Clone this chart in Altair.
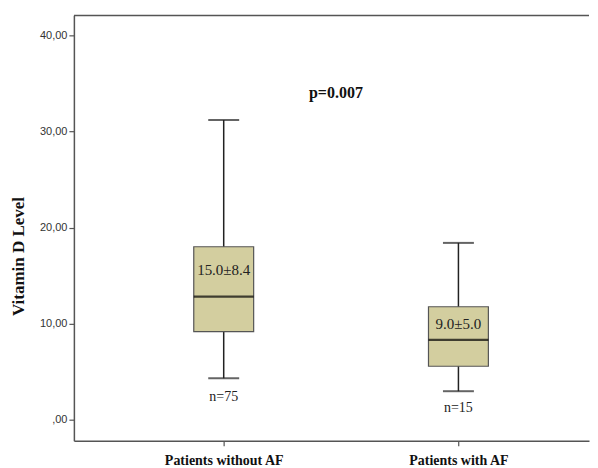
import altair as alt
import pandas as pd

groups = ["Patients without AF", "Patients with AF"]
group_pos = [0, 1]
whisker_low = [4.3, 2.95]
q1 = [9.15, 5.55]
median = [12.8, 8.3]
q3 = [18.0, 11.75]
whisker_high = [31.2, 18.4]
mean_sd_labels = ["15.0±8.4", "9.0±5.0"]
mean_sd_y = [15.6, 9.9]
n_labels = ["n=75", "n=15"]
n_y = [2.3, 1.15]
p_label = ["p=0.007"]
p_x = [0.478]
p_y = [34.0]

df = pd.DataFrame({
    "group": groups, "pos": group_pos, "lo": whisker_low, "q1": q1,
    "med": median, "q3": q3, "hi": whisker_high,
    "msd": mean_sd_labels, "msd_y": mean_sd_y, "n": n_labels, "n_y": n_y,
})
pdf = pd.DataFrame({"label": p_label, "x": p_x, "y": p_y})

xscale = alt.Scale(domain=[-0.617, 1.535], nice=False, zero=False)
yscale = alt.Scale(domain=[-2.2, 42.1], nice=False, zero=False)

x_enc = alt.X("pos:Q", scale=xscale, axis=alt.Axis(
    values=[0, 1], title=None, grid=False,
    labelExpr="datum.value == 0 ? 'Patients without AF' : 'Patients with AF'",
    labelFont="Liberation Serif", labelFontWeight="bold", labelFontSize=14,
    labelColor="#111", labelPadding=8, tickSize=5, tickColor="#555",
    domainColor="#555", domainWidth=1.5, tickWidth=1.2, labelFlush=False,
))

whisk = alt.Chart(df).mark_rule(color="#222", strokeWidth=1.5).encode(
    x=x_enc,
    y=alt.Y("lo:Q", scale=yscale, axis=alt.Axis(
        values=[0, 10, 20, 30, 40], grid=False, title="Vitamin D Level",
        labelExpr="datum.value == 0 ? ',00' : replace(format(datum.value, '.2f'), '.', ',')",
        labelFont="Liberation Sans", labelFontSize=11, labelColor="#333",
        tickSize=5, tickColor="#555", domainColor="#555", domainWidth=1.5,
        tickWidth=1.2, labelPadding=2,
        titleFont="Liberation Serif", titleFontWeight="bold", titleFontSize=17,
        titleColor="#111", titleX=-46, titleY=241, titleAngle=270,
    )),
    y2="hi:Q",
)

caps_lo = alt.Chart(df).mark_tick(orient="horizontal", size=31, thickness=2, color="#222").encode(
    x=alt.X("pos:Q", scale=xscale), y=alt.Y("lo:Q", scale=yscale))
caps_hi = alt.Chart(df).mark_tick(orient="horizontal", size=31, thickness=2, color="#222").encode(
    x=alt.X("pos:Q", scale=xscale), y=alt.Y("hi:Q", scale=yscale))

box = alt.Chart(df).mark_bar(width=60, color="#D3CE9F", stroke="#555", strokeWidth=1.2).encode(
    x=alt.X("pos:Q", scale=xscale), y=alt.Y("q1:Q", scale=yscale), y2="q3:Q")

med = alt.Chart(df).mark_tick(orient="horizontal", size=60, thickness=2.2, color="#000").encode(
    x=alt.X("pos:Q", scale=xscale), y=alt.Y("med:Q", scale=yscale))

msd = alt.Chart(df).mark_text(font="Liberation Serif", fontSize=15, color="#222",
                              baseline="middle").encode(
    x=alt.X("pos:Q", scale=xscale), y=alt.Y("msd_y:Q", scale=yscale), text="msd:N")

ntext = alt.Chart(df).mark_text(font="Liberation Serif", fontSize=14, color="#222",
                                baseline="middle").encode(
    x=alt.X("pos:Q", scale=xscale), y=alt.Y("n_y:Q", scale=yscale), text="n:N")

ptext = alt.Chart(pdf).mark_text(font="Liberation Serif", fontSize=16, fontWeight="bold",
                                 color="#111", baseline="middle").encode(
    x=alt.X("x:Q", scale=xscale), y=alt.Y("y:Q", scale=yscale), text="label:N")

top = alt.Chart(pdf).mark_rule(color="#555", strokeWidth=1.5).encode(
    x=alt.value(0), x2=alt.value(516), y=alt.value(0))

chart = alt.layer(top, whisk, caps_lo, caps_hi, box, med, msd, ntext, ptext).properties(
    width=516, height=426,
    padding={"left": 2, "top": 6, "right": 0, "bottom": 0},
    background="white",
).configure_view(stroke=None)

chart.save("out.html", embed_options={"renderer": "svg", "actions": False})
